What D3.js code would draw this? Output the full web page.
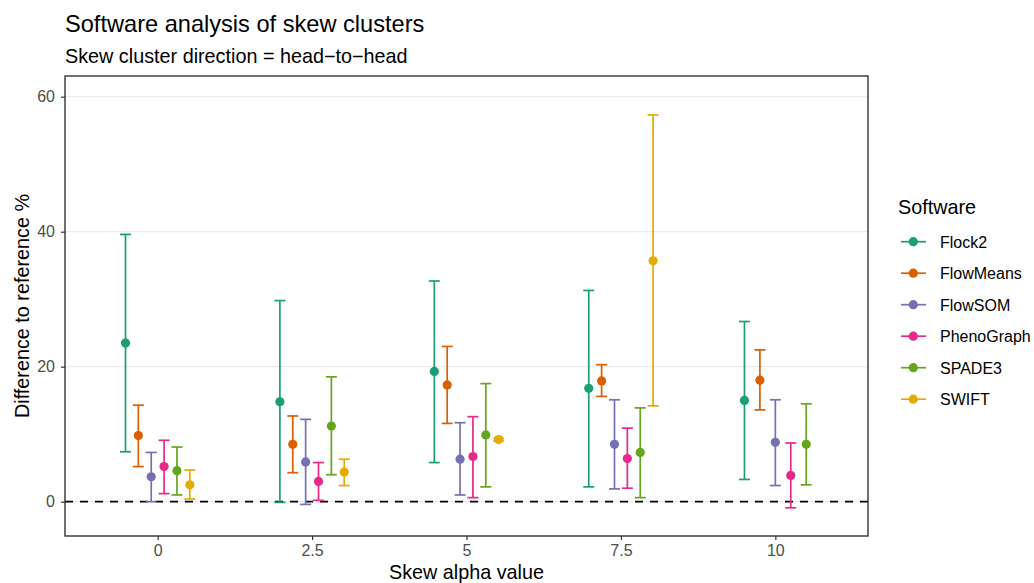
<!DOCTYPE html>
<html>
<head>
<meta charset="utf-8">
<script src="https://cdn.jsdelivr.net/npm/d3@7"></script>
<style>
  body { margin: 0; background: #fff; }
  svg { font-family: "Liberation Sans", Arial, sans-serif; }
</style>
</head>
<body>
<div id="chart"></div>
<script>
var width = 1034,
    height = 583;

// skew alpha categories
const alphas = ["0", "2.5", "5", "7.5", "10"];
const software = ["Flock2", "FlowMeans", "FlowSOM", "PhenoGraph", "SPADE3", "SWIFT"];
const colors = ["#1B9E77", "#D95F02", "#7570B3", "#E7298A", "#66A61E", "#E6AB02"];

// mean / lower / upper per software, one value per alpha (null = missing)
const flock2Mean = [23.5, 14.8, 19.3, 16.8, 15.0];
const flock2Low = [7.4, -0.1, 5.8, 2.2, 3.3];
const flock2High = [39.6, 29.8, 32.7, 31.3, 26.7];

const flowMeansMean = [9.8, 8.5, 17.3, 17.9, 18.0];
const flowMeansLow = [5.2, 4.3, 11.6, 15.6, 13.6];
const flowMeansHigh = [14.3, 12.7, 23.0, 20.3, 22.5];

const flowSOMMean = [3.7, 5.9, 6.3, 8.5, 8.8];
const flowSOMLow = [0.0, -0.4, 1.0, 1.9, 2.4];
const flowSOMHigh = [7.3, 12.2, 11.7, 15.1, 15.1];

const phenoMean = [5.2, 3.0, 6.7, 6.4, 3.9];
const phenoLow = [1.2, 0.2, 0.6, 2.0, -0.9];
const phenoHigh = [9.1, 5.8, 12.6, 10.9, 8.7];

const spadeMean = [4.6, 11.2, 9.9, 7.3, 8.5];
const spadeLow = [1.0, 4.0, 2.2, 0.6, 2.5];
const spadeHigh = [8.1, 18.5, 17.5, 13.9, 14.5];

const swiftMean = [2.5, 4.4, 9.2, 35.7, null];
const swiftLow = [0.4, 2.4, 9.0, 14.2, null];
const swiftHigh = [4.7, 6.3, 9.4, 57.3, null];

const yTicks = [0, 20, 40, 60];

const means = [flock2Mean, flowMeansMean, flowSOMMean, phenoMean, spadeMean, swiftMean];
const lows = [flock2Low, flowMeansLow, flowSOMLow, phenoLow, spadeLow, swiftLow];
const highs = [flock2High, flowMeansHigh, flowSOMHigh, phenoHigh, spadeHigh, swiftHigh];

// flatten into rows, dodge position computed per alpha group
var rows = [];
alphas.forEach(function (a, j) {
    var present = software.filter(function (s, i) { return means[i][j] != null; });
    present.forEach(function (s, k) {
        var i = software.indexOf(s);
        rows.push({
            alpha: a, software: s, mean: means[i][j], low: lows[i][j], high: highs[i][j],
            k: k, n: present.length
        });
    });
});

var panel = { left: 65, right: 868, top: 76, bottom: 536 };

var svg = d3.select("#chart")
    .append("svg")
    .attr("width", width)
    .attr("height", height);

var x = d3.scalePoint()
    .domain(alphas)
    .range([panel.left, panel.right])
    .padding(0.6);

var y = d3.scaleLinear()
    .domain([-5.08, 63.07])
    .range([panel.bottom, panel.top]);

var colorScale = d3.scaleOrdinal()
    .domain(software)
    .range(colors);

function xpos(d) {
    var dodge = 0.5 * x.step() / d.n;
    return x(d.alpha) + (d.k - (d.n - 1) / 2) * dodge;
}

// gridlines
svg.append("g")
    .selectAll("line")
    .data(yTicks)
    .join("line")
    .attr("x1", panel.left)
    .attr("x2", panel.right)
    .attr("y1", d => y(d))
    .attr("y2", d => y(d))
    .attr("stroke", "#EBEBEB")
    .attr("stroke-width", 1.2);

// reference line at 0
svg.append("line")
    .attr("x1", panel.left)
    .attr("x2", panel.right)
    .attr("y1", y(0))
    .attr("y2", y(0))
    .attr("stroke", "#000")
    .attr("stroke-width", 1.8)
    .attr("stroke-dasharray", "8,7");

// error bars
var bars = svg.append("g")
    .selectAll("g")
    .data(rows)
    .join("g")
    .attr("stroke", d => colorScale(d.software))
    .attr("stroke-width", 1.7);

bars.append("line")
    .attr("x1", d => xpos(d))
    .attr("x2", d => xpos(d))
    .attr("y1", d => y(d.low))
    .attr("y2", d => y(d.high));

bars.append("line")
    .attr("x1", d => xpos(d) - 5.5)
    .attr("x2", d => xpos(d) + 5.5)
    .attr("y1", d => y(d.low))
    .attr("y2", d => y(d.low));

bars.append("line")
    .attr("x1", d => xpos(d) - 5.5)
    .attr("x2", d => xpos(d) + 5.5)
    .attr("y1", d => y(d.high))
    .attr("y2", d => y(d.high));

// points
svg.append("g")
    .selectAll("circle")
    .data(rows)
    .join("circle")
    .attr("cx", d => xpos(d))
    .attr("cy", d => y(d.mean))
    .attr("r", 4.6)
    .attr("fill", d => colorScale(d.software));

// panel border
svg.append("rect")
    .attr("x", panel.left)
    .attr("y", panel.top)
    .attr("width", panel.right - panel.left)
    .attr("height", panel.bottom - panel.top)
    .attr("fill", "none")
    .attr("stroke", "#333")
    .attr("stroke-width", 1.4);

// axes
var xAxis = svg.append("g")
    .attr("transform", "translate(0," + panel.bottom + ")")
    .call(d3.axisBottom(x).tickSize(4).tickPadding(5));

var yAxis = svg.append("g")
    .attr("transform", "translate(" + panel.left + ",0)")
    .call(d3.axisLeft(y).tickValues(yTicks).tickSize(4).tickPadding(6));

[xAxis, yAxis].forEach(function (ax) {
    ax.select(".domain").remove();
    ax.selectAll(".tick line").attr("stroke", "#333").attr("stroke-width", 1.2);
    ax.selectAll(".tick text")
        .attr("fill", "#4D4D4D")
        .style("font-size", "16px")
        .style("font-family", "Liberation Sans, Arial, sans-serif");
});

// titles
svg.append("text")
    .attr("x", 65)
    .attr("y", 32)
    .attr("font-size", "23.6px")
    .text("Software analysis of skew clusters");

svg.append("text")
    .attr("x", 65)
    .attr("y", 63)
    .attr("font-size", "19.8px")
    .text("Skew cluster direction = head\u2212to\u2212head");

svg.append("text")
    .attr("x", (panel.left + panel.right) / 2)
    .attr("y", 579)
    .attr("text-anchor", "middle")
    .attr("font-size", "19.8px")
    .text("Skew alpha value");

svg.append("text")
    .attr("transform", "translate(29," + (panel.top + panel.bottom) / 2 + ") rotate(-90)")
    .attr("text-anchor", "middle")
    .attr("font-size", "19.8px")
    .text("Difference to reference %");

// legend
var legend = svg.append("g")
    .attr("transform", "translate(898,0)");

legend.append("text")
    .attr("x", 0)
    .attr("y", 214)
    .attr("font-size", "19.8px")
    .text("Software");

var items = legend.selectAll(".item")
    .data(software)
    .join("g")
    .attr("class", "item")
    .attr("transform", (d, i) => "translate(0," + (241.7 + i * 31.5) + ")");

items.append("line")
    .attr("x1", 3)
    .attr("x2", 28)
    .attr("stroke", d => colorScale(d))
    .attr("stroke-width", 1.7);

items.append("circle")
    .attr("cx", 15.3)
    .attr("r", 4.6)
    .attr("fill", d => colorScale(d));

items.append("text")
    .attr("x", 42)
    .attr("y", 5.8)
    .attr("font-size", "16px")
    .text(d => d);
</script>
</body>
</html>
